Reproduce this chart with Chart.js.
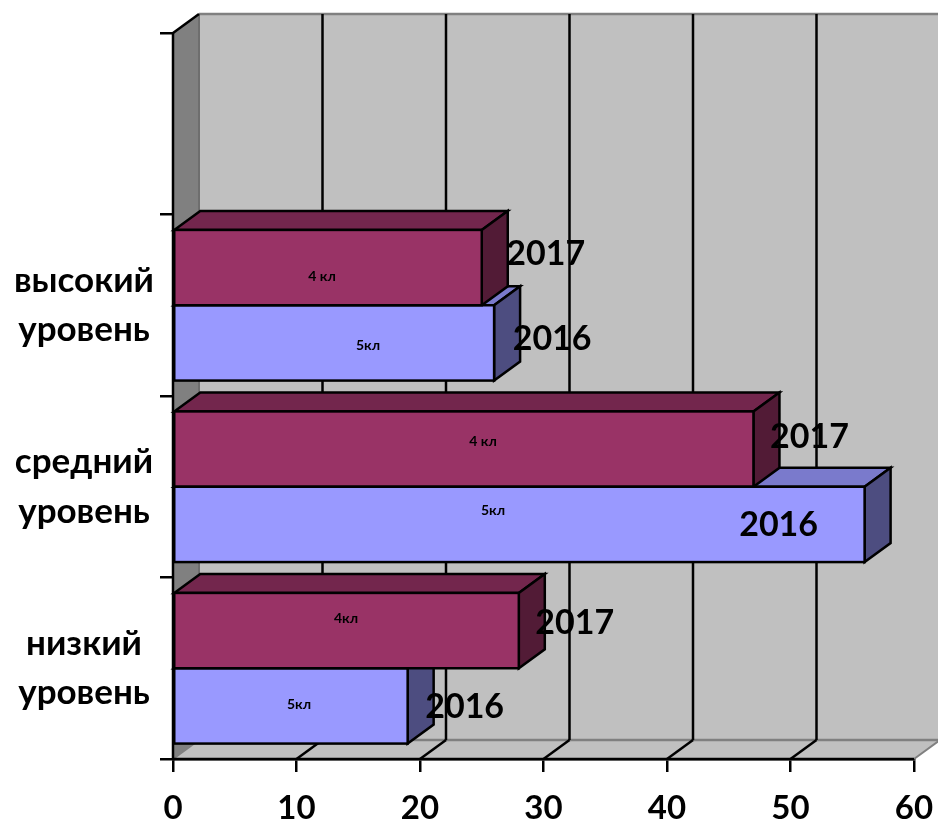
<!DOCTYPE html>
<html>
<head>
<meta charset="utf-8">
<style>
  html, body { margin: 0; padding: 0; background: #fff; }
  #wrap { width: 938px; height: 825px; }
</style>
<script src="https://cdn.jsdelivr.net/npm/chart.js@4"></script>
</head>
<body>
<div id="wrap"><canvas id="chart"></canvas></div>
<script>
const categories = [["низкий", "уровень"], ["средний", "уровень"], ["высокий", "уровень"], ""];
const values2016 = [19, 56, 26, null];
const values2017 = [28, 47, 25, null];
const classes2016 = ["5кл", "5кл", "5кл"];
const classes2017 = ["4кл", "4 кл", "4 кл"];
const xMax = 60;
const xStep = 10;

// hand placement of the text labels, px from bar end / bar centre
const yearOffset2016 = [[57, 1], [-86, 1], [58, -4]];
const yearOffset2017 = [[56, -8], [56, -12], [64, -14]];
const classOffset2016 = [[126, -1], [320, -14], [195, 3]];
const classOffset2017 = [[173, -12], [310, -8], [149, 9]];

const FONT = "Lato, 'Open Sans', sans-serif";
const DX = 26;
const DY = -19;

function poly(ctx, pts, fill, stroke, width) {
  ctx.beginPath();
  pts.forEach((p, i) => (i ? ctx.lineTo(p[0], p[1]) : ctx.moveTo(p[0], p[1])));
  ctx.closePath();
  if (fill) {
    ctx.fillStyle = fill;
    ctx.fill();
  }
  if (stroke) {
    ctx.strokeStyle = stroke;
    ctx.lineWidth = width;
    ctx.stroke();
  }
}

function line(ctx, x1, y1, x2, y2, color, width) {
  ctx.beginPath();
  ctx.moveTo(x1, y1);
  ctx.lineTo(x2, y2);
  ctx.strokeStyle = color;
  ctx.lineWidth = width;
  ctx.stroke();
}

function drawBox(ctx, bar, topColor, sideColor) {
  const x0 = bar.base;
  const x1 = bar.x;
  const top = bar.y - bar.height / 2;
  const bottom = bar.y + bar.height / 2;
  poly(ctx, [[x0, top], [x0 + DX, top + DY], [x1 + DX, top + DY], [x1, top]], topColor, "#000", 2.5);
  poly(ctx, [[x1, top], [x1 + DX, top + DY], [x1 + DX, bottom + DY], [x1, bottom]], sideColor, "#000", 2.5);
}

const wallsPlugin = {
  id: "walls",
  beforeDatasetsDraw(chart) {
    const ctx = chart.ctx;
    const { left, right, top, bottom } = chart.chartArea;
    const xs = chart.scales.x;
    ctx.save();
    // back wall, floor, side wall
    poly(ctx, [[left + DX, top + DY], [right + DX, top + DY], [right + DX, bottom + DY], [left + DX, bottom + DY]], "#c0c0c0");
    poly(ctx, [[left, bottom], [left + DX, bottom + DY], [right + DX, bottom + DY], [right, bottom]], "#c0c0c0");
    poly(ctx, [[left, top], [left + DX, top + DY], [left + DX, bottom + DY], [left, bottom]], "#808080");
    line(ctx, left + DX, top + DY, right + DX, top + DY, "#808080", 2.5);
    line(ctx, left + DX, top + DY, left + DX, bottom + DY, "#6e6e6e", 2);
    line(ctx, left + DX, bottom + DY, right + DX, bottom + DY, "#808080", 2.5);
    line(ctx, left, bottom, left + DX, bottom + DY, "#808080", 2);
    line(ctx, right, bottom, right + DX, bottom + DY, "#808080", 2);
    // gridlines on the back wall and floor
    for (let v = xStep; v < xMax; v += xStep) {
      const px = xs.getPixelForValue(v);
      line(ctx, px + DX, top + DY, px + DX, bottom + DY, "#000", 2.5);
      line(ctx, px, bottom, px + DX, bottom + DY, "#000", 2.5);
    }
    line(ctx, left, top, left + DX, top + DY, "#000", 2.5);
    line(ctx, left, top, left, bottom, "#000", 2.5);
    line(ctx, left, bottom, right, bottom, "#000", 2.5);
    // side and top faces of the bars, 2016 first so 2017 lies over it
    chart.getDatasetMeta(1).data.forEach((bar, i) => {
      if (values2016[i] !== null) drawBox(ctx, bar, "#7a7acc", "#4d4d80");
    });
    chart.getDatasetMeta(0).data.forEach((bar, i) => {
      if (values2017[i] !== null) drawBox(ctx, bar, "#73264d", "#521b36");
    });
    ctx.restore();
  },
  afterDatasetsDraw(chart) {
    const ctx = chart.ctx;
    const { left } = chart.chartArea;
    ctx.save();
    // outline of the front faces, centred on the edge like the other faces
    [chart.getDatasetMeta(0), chart.getDatasetMeta(1)].forEach((meta) => {
      meta.data.slice(0, 3).forEach((bar) => {
        ctx.strokeStyle = "#000";
        ctx.lineWidth = 2.5;
        ctx.strokeRect(bar.base, bar.y - bar.height / 2, bar.x - bar.base, bar.height);
      });
    });
    ctx.fillStyle = "#000";
    ctx.textAlign = "center";
    ctx.textBaseline = "middle";
    const drawLabels = (meta, year, classes, yearOffset, classOffset) => {
      classes.forEach((name, i) => {
        const bar = meta.data[i];
        ctx.font = "bold 14px " + FONT;
        ctx.fillText(name, left + classOffset[i][0], bar.y + classOffset[i][1]);
        ctx.font = "bold 34px " + FONT;
        ctx.fillText(year, bar.x + yearOffset[i][0], bar.y + yearOffset[i][1]);
      });
    };
    drawLabels(chart.getDatasetMeta(1), "2016", classes2016, yearOffset2016, classOffset2016);
    drawLabels(chart.getDatasetMeta(0), "2017", classes2017, yearOffset2017, classOffset2017);
    ctx.restore();
  },
};

new Chart(document.getElementById("chart"), {
  type: "bar",
  data: {
    labels: categories,
    datasets: [
      { label: "2017", data: values2017, backgroundColor: "#993366", borderWidth: 0 },
      { label: "2016", data: values2016, backgroundColor: "#9999ff", borderWidth: 0 },
    ],
  },
  options: {
    indexAxis: "y",
    responsive: true,
    maintainAspectRatio: false,
    animation: false,
    devicePixelRatio: 1,
    datasets: { bar: { barPercentage: 1, categoryPercentage: 0.83 } },
    layout: { padding: { top: 33, right: 24, left: 0, bottom: 0 } },
    plugins: { legend: { display: false }, tooltip: { enabled: false } },
    scales: {
      x: {
        min: 0,
        max: xMax,
        afterFit(axis) {
          axis.height = 66;
          axis.paddingRight = 0;
          axis.paddingLeft = 0;
        },
        border: { color: "#000", width: 2.5 },
        grid: { drawOnChartArea: false, color: "#000", lineWidth: 2.5, tickLength: 13 },
        ticks: { stepSize: xStep, maxRotation: 0, color: "#000", padding: 17, font: { family: FONT, weight: "bold", size: 33 } },
      },
      y: {
        reverse: true,
        afterFit(axis) { axis.width = 173; },
        border: { color: "#000", width: 2.5 },
        grid: { drawOnChartArea: false, color: "#000", lineWidth: 2.5, tickLength: 13 },
        ticks: {
          crossAlign: "center",
          autoSkip: false,
          color: "#000",
          padding: 6,
          font: { family: FONT, weight: "bold", size: 35, lineHeight: 1.41 },
        },
      },
    },
  },
  plugins: [wallsPlugin],
});
</script>
</body>
</html>
